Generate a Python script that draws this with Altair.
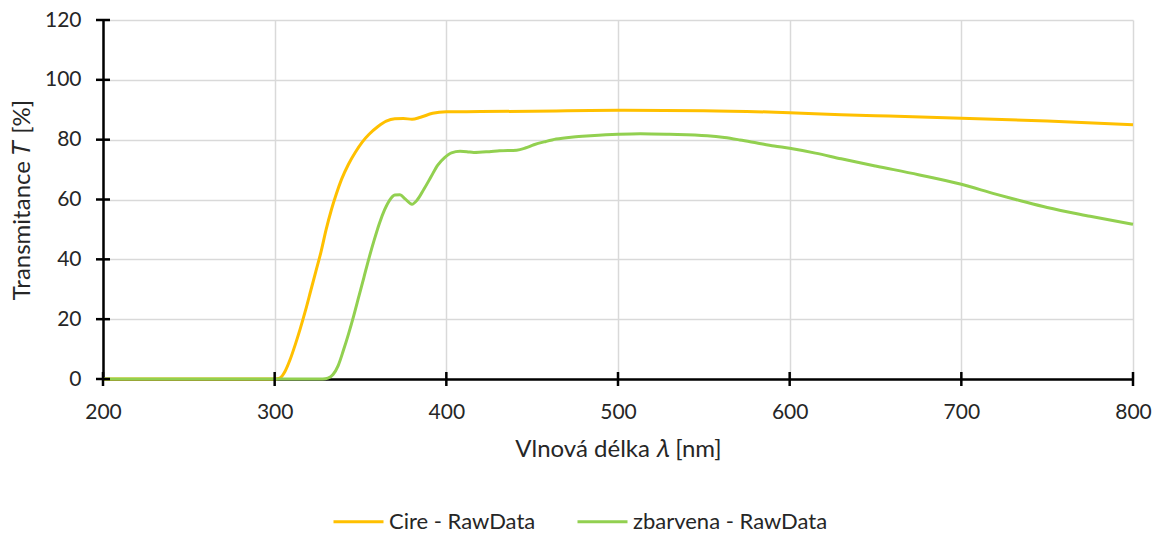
import altair as alt
import pandas as pd

# Transmittance spectra (wavelength in nm, transmittance in %)
cire_nm = [200, 250, 300, 303, 306, 309, 312, 315, 318, 321, 324, 327, 330, 333, 336,
           339, 343, 347, 351, 355, 360, 365, 370, 375, 380, 385, 392, 400, 420, 450,
           500, 550, 600, 630, 650, 700, 750, 800]
cire_t = [0, 0, 0, 0.3, 2.5, 6.5, 11.5, 17, 23, 29.5, 36, 42.5, 50, 56.5, 62,
          66.8, 71.8, 75.8, 79.2, 81.8, 84.3, 86.2, 87.0, 87.1, 86.8, 87.5, 88.8, 89.3, 89.4, 89.5,
          89.8, 89.7, 89.0, 88.3, 88.0, 87.2, 86.2, 85.0]

zbarvena_nm = [200, 300, 328, 331, 334, 337, 340, 343, 346, 349, 352, 355, 358, 361, 364,
               367, 370, 373, 376, 380, 383, 387, 391, 395, 399, 403, 408, 412, 416, 425,
               431, 441, 446, 451, 458, 464, 474, 484, 500, 513, 530, 552, 562, 571, 581,
               591, 600, 615, 630, 650, 675, 700, 720, 735, 750, 775, 800]
zbarvena_t = [0, 0, 0, 0.3, 1.5, 4.5, 9.5, 15, 21, 27.5, 34, 40.5, 46.5, 52, 56.5,
              59.8, 61.5, 61.6, 60.2, 58.4, 59.8, 63.5, 67.5, 71.5, 74, 75.6, 76.1, 76.0, 75.7, 76.0,
              76.3, 76.5, 77.2, 78.3, 79.4, 80.2, 80.9, 81.3, 81.8, 82.0, 81.8, 81.3, 80.7, 79.9, 78.9,
              77.9, 77.1, 75.5, 73.6, 71.2, 68.3, 65.1, 61.8, 59.5, 57.3, 54.4, 51.7]

series_names = ["Cire - RawData", "zbarvena - RawData"]
series_colors = ["#FFC000", "#92D050"]

x_ticks = [200, 300, 400, 500, 600, 700, 800]
y_ticks = [0, 20, 40, 60, 80, 100, 120]

FONT = "Lato"
TEXT = "#262626"
PLOT_W, PLOT_H = 1030, 359
TICK_HALF = 7  # tick marks stick out this far on both sides of the axis line

df = pd.concat([
    pd.DataFrame({"nm": cire_nm, "T": cire_t, "series": series_names[0]}),
    pd.DataFrame({"nm": zbarvena_nm, "T": zbarvena_t, "series": series_names[1]}),
], ignore_index=True)

x_scale = alt.Scale(domain=[200, 800], nice=False, zero=False)
y_scale = alt.Scale(domain=[0, 120], nice=False)

x_axis = alt.Axis(values=x_ticks, title="Vlnová délka 𝜆 [nm]", grid=True,
                  gridColor="#d9d9d9", gridWidth=1.5, ticks=False,
                  domainColor="black", domainWidth=2.5, labelPadding=22,
                  labelFlush=False, labelFont=FONT, labelFontSize=21, labelColor=TEXT,
                  titleFont=FONT, titleFontSize=24, titleFontWeight="normal",
                  titleColor=TEXT, titlePadding=15)
y_axis = alt.Axis(values=y_ticks, title="Transmitance 𝑇 [%]", grid=True,
                  gridColor="#d9d9d9", gridWidth=1.5, ticks=False,
                  domainColor="black", domainWidth=2.5, labelPadding=22,
                  labelFlush=False, labelFont=FONT, labelFontSize=21, labelColor=TEXT,
                  titleFont=FONT, titleFontSize=24, titleFontWeight="normal",
                  titleColor=TEXT, titlePadding=10)

lines = alt.Chart(df).mark_line(strokeWidth=3, interpolate="monotone").encode(
    x=alt.X("nm:Q", scale=x_scale, axis=x_axis),
    y=alt.Y("T:Q", scale=y_scale, axis=y_axis),
    color=alt.Color("series:N",
                    scale=alt.Scale(domain=series_names, range=series_colors),
                    legend=alt.Legend(title=None, orient="none", direction="horizontal",
                                      legendX=229, legendY=475,
                                      symbolType="stroke", symbolSize=2500,
                                      symbolStrokeWidth=3, labelOffset=4,
                                      columnPadding=35, labelLimit=0, labelFont=FONT,
                                      labelFontSize=22, labelColor=TEXT)),
)

# Tick marks that cross the axis lines
xt = pd.DataFrame({"nm": x_ticks})
yt = pd.DataFrame({"T": y_ticks})
x_tick_marks = alt.Chart(xt).mark_rule(color="black", strokeWidth=2.5).encode(
    x=alt.X("nm:Q", scale=x_scale),
    y=alt.value(PLOT_H - TICK_HALF), y2=alt.value(PLOT_H + TICK_HALF))
y_tick_marks = alt.Chart(yt).mark_rule(color="black", strokeWidth=2.5).encode(
    y=alt.Y("T:Q", scale=y_scale),
    x=alt.value(-TICK_HALF), x2=alt.value(TICK_HALF))

chart = alt.layer(lines, x_tick_marks, y_tick_marks).properties(
    width=PLOT_W, height=PLOT_H,
    autosize=alt.AutoSizeParams(type="none"),
    padding={"left": 103, "top": 20, "right": 19, "bottom": 154},
    background="white",
).configure_view(stroke=None)

chart.save("out.html", embed_options={"renderer": "svg", "actions": False})
